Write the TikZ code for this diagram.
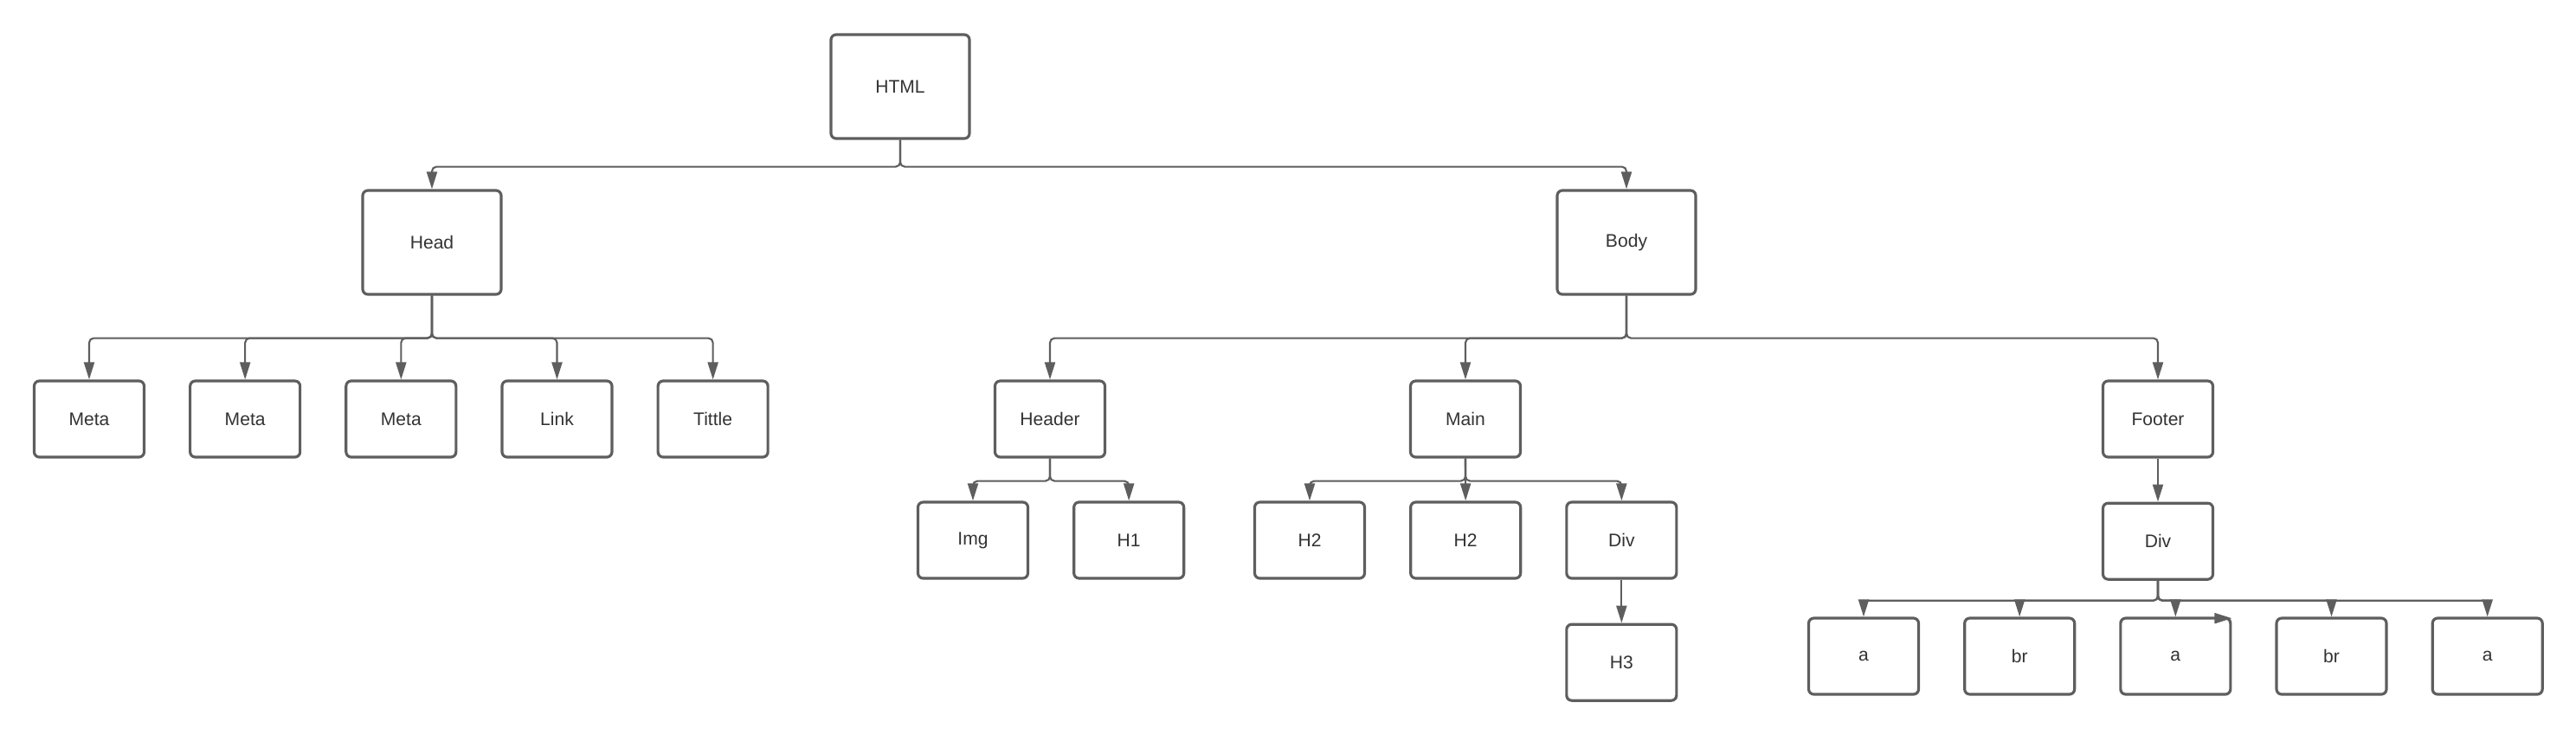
\documentclass[tikz,border=0pt]{standalone}
\usepackage{fontspec}
\setmainfont{Liberation Sans}
\usetikzlibrary{arrows.meta,positioning}

\definecolor{edgegray}{HTML}{5E5E5E}
\definecolor{textgray}{HTML}{333333}

\begin{document}
\begin{tikzpicture}[>={Triangle[length=2mm,width=1.2mm]}, node distance=5.0mm,
  big/.style={draw=edgegray, line width=0.9pt, rounded corners=1.7pt, minimum width=16mm, minimum height=12mm, inner sep=0pt, text=textgray, font=\fontsize{6}{7}\selectfont},
  box/.style={big, minimum width=12.7mm, minimum height=8.8mm},
  conn/.style={->, draw=edgegray, line width=0.6pt, rounded corners=1.5pt}]

  \useasboundingbox (0,0) rectangle (29.76,-8.48);

  % top levels
  \node[big] (HTML) at (10.40,-1.00) {HTML};
  \node[big] (Head) at (4.99,-2.80) {Head};
  \node[big] (Body) at (18.79,-2.80) {Body};

  % head children
  \node[box] (Meta1) at (1.03,-4.84) {Meta};
  \node[box, right=of Meta1] (Meta2) {Meta};
  \node[box, right=of Meta2] (Meta3) {Meta};
  \node[box, right=of Meta3] (Link) {Link};
  \node[box, right=of Link] (Tittle) {Tittle};

  % body children
  \node[box] (Header) at (12.13,-4.84) {Header};
  \node[box] (Main) at (16.93,-4.84) {Main};
  \node[box] (Footer) at (24.93,-4.84) {Footer};

  \node[box] (Img) at (11.24,-6.24) {Img};
  \node[box, right=of Img] (H1) {H1};
  \node[box] (H2a) at (15.13,-6.24) {H2};
  \node[box, right=of H2a] (H2b) {H2};
  \node[box, right=of H2b] (Div) {Div};
  \node[box, below=of Div] (H3) {H3};
  \node[box, below=of Footer] (FDiv) {Div};

  \node[box] (A1) at (21.53,-7.58) {a};
  \node[box, right=of A1] (Br1) {br};
  \node[box, right=of Br1] (A2) {a};
  \node[box, right=of A2] (Br2) {br};
  \node[box, right=of Br2] (A3) {a};

  \draw[conn] (HTML.south) -- ++(0,-0.31) -| (Head.north);
  \draw[conn] (HTML.south) -- ++(0,-0.31) -| (Body.north);

  \draw[conn] (Head.south) -- ++(0,-0.49) -| (Meta1.north);
  \draw[conn] (Head.south) -- ++(0,-0.49) -| (Meta2.north);
  \draw[conn] (Head.south) -- ++(0,-0.49) -| (Meta3.north);
  \draw[conn] (Head.south) -- ++(0,-0.49) -| (Link.north);
  \draw[conn] (Head.south) -- ++(0,-0.49) -| (Tittle.north);

  \draw[conn] (Body.south) -- ++(0,-0.49) -| (Header.north);
  \draw[conn] (Body.south) -- ++(0,-0.49) -| (Main.north);
  \draw[conn] (Body.south) -- ++(0,-0.49) -| (Footer.north);

  \draw[conn] (Header.south) -- ++(0,-0.26) -| (Img.north);
  \draw[conn] (Header.south) -- ++(0,-0.26) -| (H1.north);

  \draw[conn] (Main.south) -- ++(0,-0.26) -| (H2a.north);
  \draw[conn] (Main.south) -- (H2b.north);
  \draw[conn] (Main.south) -- ++(0,-0.26) -| (Div.north);
  \draw[conn] (Div) -- (H3);

  \draw[conn] (Footer) -- (FDiv);
  \draw[conn] (FDiv.south) -- ++(0,-0.23) -| (A1.north);
  \draw[conn] (FDiv.south) -- ++(0,-0.23) -| (Br1.north);
  \draw[conn] (FDiv.south) -- ++(0,-0.23) -| (A2.north);
  \draw[conn] (FDiv.south) -- ++(0,-0.23) -| (Br2.north);
  \draw[conn] (FDiv.south) -- ++(0,-0.23) -| (A3.north);

  \coordinate (stray) at ([xshift=-4mm,yshift=-0.5pt]A2.north east);
  \draw[conn] (stray) -- ([yshift=-0.5pt]A2.north east);
\end{tikzpicture}
\end{document}
